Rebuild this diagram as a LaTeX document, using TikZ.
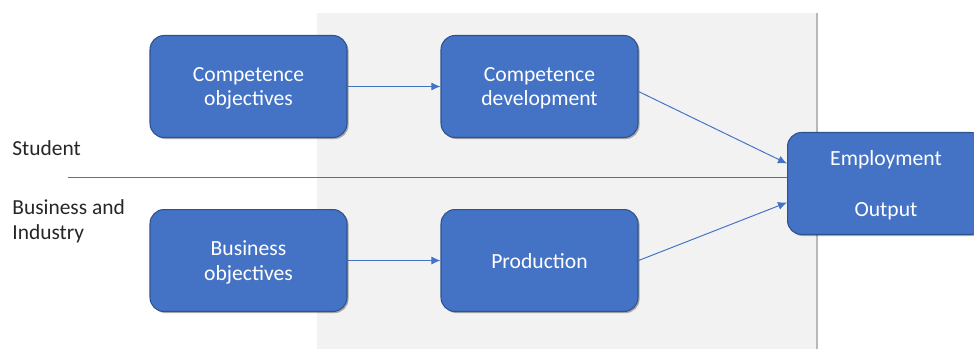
\documentclass[tikz,border=0pt]{standalone}
\usepackage{fontspec}
\setmainfont{Carlito}
\usetikzlibrary{arrows.meta,positioning,calc,shadows}
\definecolor{offBlue}{RGB}{68,114,196}
\definecolor{offEdge}{RGB}{47,82,143}
\definecolor{bgGray}{RGB}{242,242,242}
\definecolor{txtGray}{RGB}{38,38,38}
\tikzset{
  box/.style={rounded corners=8pt, draw=offEdge, fill=offBlue, line width=0.6pt, align=center,
              minimum width=3.94cm, minimum height=2.04cm, inner sep=2pt, text=white,
              text depth=0pt, font=\fontsize{12.3}{14.2}\selectfont,
              drop shadow={shadow xshift=0.9pt, shadow yshift=-0.9pt, opacity=0.3, fill=black}},
  sidelabel/.style={anchor=west, align=left, inner sep=0pt, text=txtGray,
              font=\fontsize{12.2}{14.2}\selectfont},
  arrow/.style={-{Latex[length=1.8mm, width=1.6mm]}, line width=0.55pt, draw=offBlue}
}

\begin{document}
\begin{tikzpicture}[x=0.02cm, y=-0.02cm]
\useasboundingbox (0,0) rectangle (974,349);
\fill[bgGray] (317,13) rectangle (817,349);
\draw[black!28, line width=1.2pt] (817,13) -- (817,349);
\node[box] (cobj) at (248.5,86.5) {Competence\\objectives};
\node[box, right=1.86cm of cobj] (cdev) {Competence\\development};
\node[box, below=1.42cm of cobj] (bobj) {Business\\objectives};
\node[box, right=1.86cm of bobj] (prod) {Production};
\node[box] (emp) at (886,183.5) {Employment\\[14.8pt]Output};
\node[sidelabel] (student) at (12,148) {Student};
\node[sidelabel] (business) at (12,221) {Business and\\Industry};
\coordinate (divL) at (68,177);
\draw[offBlue, line width=0.55pt] (divL) -- (divL -| emp.west);
\draw[arrow] (cobj) -- (cdev);
\draw[arrow] (bobj) -- (prod);
\draw[arrow] ($(cdev.east)+(0,5)$) -- ($(emp.west)+(0,-20)$);
\draw[arrow] (prod.east) -- ($(emp.west)+(0,19)$);
\end{tikzpicture}
\end{document}
